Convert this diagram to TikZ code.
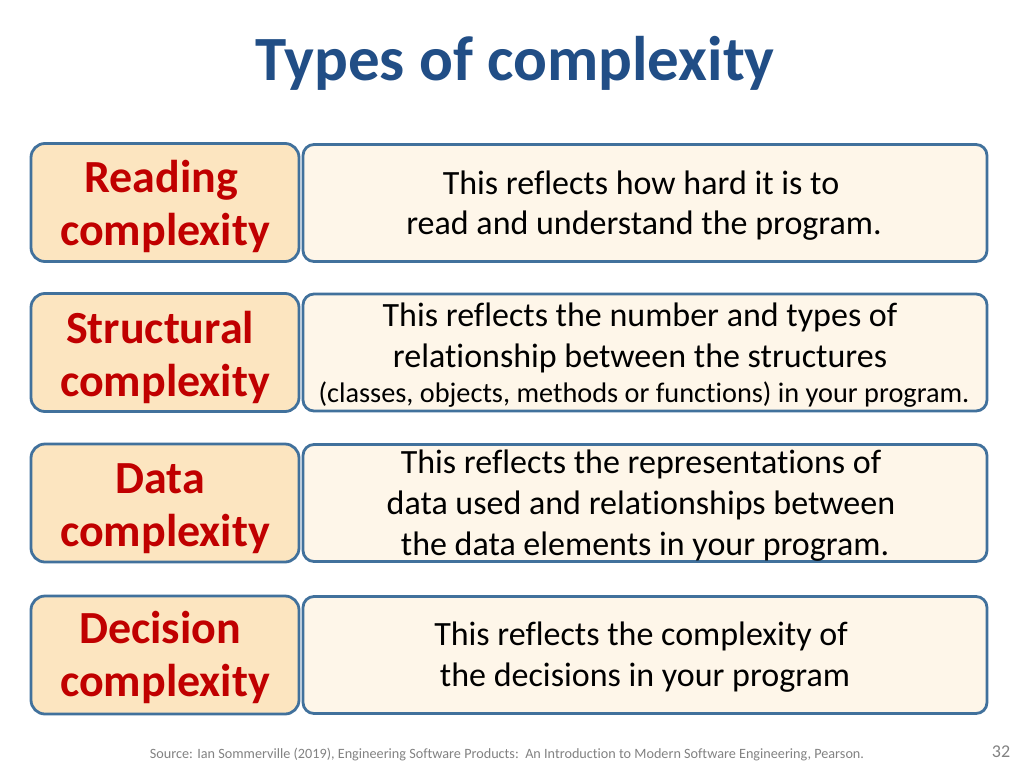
\documentclass[tikz,border=0pt]{standalone}
\usepackage{fontspec}
\setmainfont[Ligatures={NoCommon}]{Carlito}
\definecolor{titleblue}{RGB}{33,78,134}
\definecolor{bordblue}{RGB}{65,113,156}
\definecolor{lfill}{RGB}{252,229,192}
\definecolor{rfill}{RGB}{254,246,233}
\definecolor{labred}{RGB}{192,0,0}
\definecolor{footgray}{RGB}{130,130,130}
\tikzset{
  lbox/.style={draw=bordblue, line width=2.8pt, fill=lfill, rounded corners=14pt, minimum width=268pt, minimum height=118pt, inner sep=0pt},
  rbox/.style={draw=bordblue, line width=2.8pt, fill=rfill, rounded corners=11pt, minimum width=684pt, minimum height=117pt, inner sep=0pt},
  lab/.style={anchor=base, inner sep=0pt, text=labred, font=\fontsize{46}{54}\selectfont\bfseries},
  desc/.style={anchor=base, inner sep=0pt, text=black, font=\fontsize{34}{40}\selectfont},
  descs/.style={anchor=base, inner sep=0pt, text=black, font=\fontsize{28.3}{30}\selectfont},
}
\begin{document}
\begin{tikzpicture}[x=1pt,y=-1pt]
\useasboundingbox (0,0) rectangle (1024,768);
\fill[white] (0,0) rectangle (1024,768);
% title
\node[anchor=base, inner sep=0pt, text=titleblue, font=\fontsize{63}{70}\selectfont\bfseries] (title) at (515,80) {Types of complexity};
% row 1
\node[lbox] (L1) at (165,202.5) {};
\node[rbox] (R1) at (645,203) {};
\node[lab] (L1a) at (161,192) {Reading};
\node[lab] (L1b) at (165,245) {complexity};
\node[desc] (R1a) at (641,194) {This reflects how hard it is to};
\node[desc] (R1b) at (644,234) {read and understand the program.};
% row 2
\node[lbox] (L2) at (165,352.5) {};
\node[rbox] (R2) at (645,352.5) {};
\node[lab] (L2a) at (160,343) {Structural};
\node[lab] (L2b) at (165,396) {complexity};
\node[desc] (R2a) at (640,326) {This reflects the number and types of};
\node[desc] (R2b) at (640,367) {relationship between the structures};
\node[descs] (R2c) at (644,402) {(classes, objects, methods or functions) in your program.};
% row 3
\node[lbox] (L3) at (165,503) {};
\node[rbox] (R3) at (645,503) {};
\node[lab] (L3a) at (160,493) {Data};
\node[lab] (L3b) at (165,546) {complexity};
\node[desc] (R3a) at (641,473) {This reflects the representations of};
\node[desc] (R3b) at (641,514) {data used and relationships between};
\node[desc] (R3c) at (645,555) {the data elements in your program.};
% row 4
\node[lbox] (L4) at (165,655) {};
\node[rbox] (R4) at (645,655) {};
\node[lab] (L4a) at (160,643) {Decision};
\node[lab] (L4b) at (165,696) {complexity};
\node[desc] (R4a) at (641,645) {This reflects the complexity of};
\node[desc] (R4b) at (645,686) {the decisions in your program};
% footer
\node[anchor=base, inner sep=0pt, text=footgray, font=\fontsize{14.2}{16}\selectfont] (src) at (507,758) {Source: Ian Sommerville (2019), Engineering Software Products:\ \ An Introduction to Modern Software Engineering, Pearson.};
\node[anchor=base, inner sep=0pt, text=footgray, font=\fontsize{18}{20}\selectfont] (pg) at (1001,757) {32};
\end{tikzpicture}
\end{document}
